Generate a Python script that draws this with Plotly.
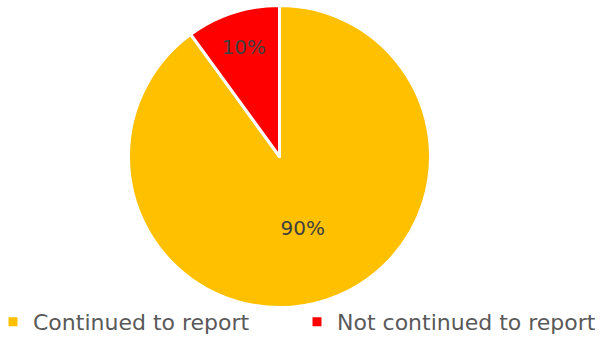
import plotly.graph_objects as go

categories = ["Continued to report", "Not continued to report"]
values = [90, 10]
colors = ["#FFC000", "#FF0000"]

fig = go.Figure(go.Pie(
    labels=categories,
    values=values,
    sort=False,
    direction="clockwise",
    rotation=0,
    marker=dict(colors=colors, line=dict(color="white", width=3)),
    textinfo="percent",
    texttemplate="%{percent:.0%}",
    textposition="inside",
    insidetextorientation="horizontal",
    textfont=dict(color="#404040", size=20, family="DejaVu Sans"),
    domain=dict(x=[128.5/613, 430.5/613], y=[(337-308)/337, (337-5)/337]),
    hoverinfo="label+percent",
))

fig.update_layout(
    width=613, height=337,
    margin=dict(l=0, r=0, t=0, b=0, autoexpand=False),
    paper_bgcolor="white",
    plot_bgcolor="white",
    font=dict(family="DejaVu Sans", color="#595959", size=22),
    showlegend=True,
    legend=dict(
        orientation="h",
        x=-7/613, xanchor="left",
        y=-6/337, yanchor="bottom",
        bgcolor="rgba(0,0,0,0)",
        font=dict(size=22, color="#595959", family="DejaVu Sans"),
        itemwidth=30,
        entrywidth=259,
        traceorder="normal",
    ),
)

fig.write_html("out.html")
